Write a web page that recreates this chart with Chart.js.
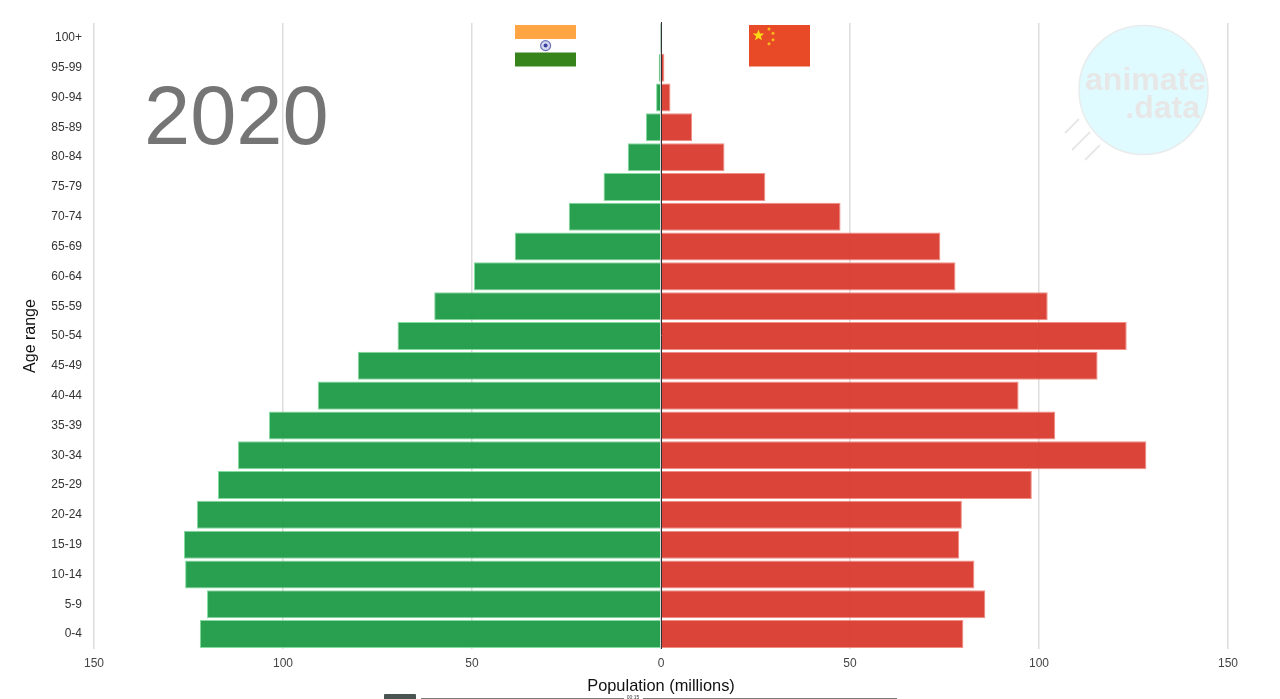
<!DOCTYPE html>
<html>
<head>
<meta charset="utf-8">
<title>Population pyramid 2020</title>
<script src="https://cdn.jsdelivr.net/npm/chart.js@4"></script>
<style>
    body { margin: 0; background: #fff; font-family: "Liberation Sans", Arial, sans-serif; overflow: hidden; }
    #wrap { position: relative; width: 1280px; height: 699px; overflow: hidden; }
    #chart { position: absolute; left: 0; top: 0; }
    #year { position: absolute; left: 144px; top: 67px; font-size: 83px; line-height: 97px; color: #757575; }
    #decor { position: absolute; left: 0; top: 0; }
</style>
</head>
<body>
<div id="wrap">
    <canvas id="chart" width="1280" height="699"></canvas>
    <div id="year">2020</div>
    <svg id="decor" width="1280" height="699" font-family="Liberation Sans">
        <!-- India flag -->
        <rect x="515" y="25" width="61" height="14" fill="#ffa544"/>
        <rect x="515" y="52.5" width="61" height="14" fill="#38841c"/>
        <circle cx="545.6" cy="45.6" r="5" fill="#d5d8f0" stroke="#6a72b8" stroke-width="1.2"/>
        <circle cx="545.6" cy="45.6" r="2" fill="#3a429c"/>
        <!-- China flag -->
        <rect x="749" y="25" width="61" height="41.5" fill="#e84a28"/>
        <polygon points="758.5,29.5 760,33.4 764.2,33.6 760.9,36.2 762,40.2 758.5,37.9 755,40.2 756.1,36.2 752.8,33.6 757,33.4" fill="#fbdc14"/>
        <circle cx="769" cy="29" r="1.5" fill="#f7b81e"/>
        <circle cx="773" cy="33.3" r="1.5" fill="#f7b81e"/>
        <circle cx="773" cy="39.7" r="1.5" fill="#f7b81e"/>
        <circle cx="769" cy="43.7" r="1.5" fill="#f7b81e"/>
        <!-- animate.data logo -->
        <circle cx="1143.5" cy="90" r="64.5" fill="#e0fbff" stroke="#e8eced" stroke-width="1.5"/>
        <g stroke="#e8e8e8" stroke-width="2">
            <line x1="1065" y1="133" x2="1079" y2="119"/>
            <line x1="1072" y1="150" x2="1090" y2="132"/>
            <line x1="1085" y1="160" x2="1100" y2="145"/>
        </g>
        <g fill="#e7e7e7" font-weight="bold" font-size="32" text-anchor="end">
            <text x="1206" y="90">animate</text>
            <text x="1200" y="118">.data</text>
        </g>
        <!-- player strip at the bottom edge -->
        <rect x="384" y="694" width="32" height="6" rx="1" fill="#4a5450"/>
        <line x1="421" y1="698.5" x2="897" y2="698.5" stroke="#7a7a7a" stroke-width="1"/>
        <rect x="624" y="695" width="19" height="4" fill="#fff"/>
        <text x="633" y="699" font-size="5" text-anchor="middle" fill="#333">00:15</text>
    </svg>
</div>
<script>
const ageRanges = ['0-4', '5-9', '10-14', '15-19', '20-24', '25-29', '30-34', '35-39', '40-44', '45-49',
    '50-54', '55-59', '60-64', '65-69', '70-74', '75-79', '80-84', '85-89', '90-94', '95-99', '100+'];
const indiaValues = [122, 120.1, 125.9, 126.2, 122.8, 117.2, 111.9, 103.7, 90.8, 80.2,
    69.7, 60, 49.5, 38.7, 24.4, 15.2, 8.8, 4, 1.3, 0.6, 0.05];
const chinaValues = [80, 85.8, 82.9, 78.9, 79.6, 98.1, 128.4, 104.3, 94.6, 115.5,
    123.2, 102.3, 77.9, 73.9, 47.5, 27.6, 16.8, 8.2, 2.5, 0.9, 0.05];
const popTicks = [-150, -100, -50, 0, 50, 100, 150];

// dark line at zero sits on top of the bars
const zeroLine = {
    id: 'zeroLine',
    afterDatasetsDraw(chart) {
        const { ctx, chartArea, scales } = chart;
        const x = Math.round(scales.x.getPixelForValue(0)) + 0.5;
        ctx.save();
        ctx.strokeStyle = '#333';
        ctx.lineWidth = 1;
        ctx.beginPath();
        ctx.moveTo(x, chartArea.top - 1);
        ctx.lineTo(x, chartArea.bottom);
        ctx.stroke();
        ctx.restore();
    }
};

new Chart(document.getElementById('chart').getContext('2d'), {
    type: 'bar',
    data: {
        labels: ageRanges,
        datasets: [
            {
                label: 'India',
                data: indiaValues.map(v => -v),
                backgroundColor: 'rgba(33, 157, 74, 0.97)',
                borderColor: 'rgba(120, 215, 150, 0.9)',
                borderWidth: 1
            },
            {
                label: 'China',
                data: chinaValues,
                backgroundColor: 'rgba(218, 60, 48, 0.96)',
                borderColor: 'rgba(240, 130, 120, 0.9)',
                borderWidth: 1
            }
        ]
    },
    options: {
        indexAxis: 'y',
        responsive: false,
        animation: false,
        layout: { padding: { top: 23, right: 52, bottom: 0, left: 0 } },
        datasets: { bar: { categoryPercentage: 1, barPercentage: 0.94 } },
        plugins: { legend: { display: false }, tooltip: { enabled: false } },
        scales: {
            x: {
                stacked: true,
                min: -150,
                max: 150,
                border: { display: false },
                afterFit: scale => { scale.height = 50; },
                afterBuildTicks: scale => { scale.ticks = popTicks.map(value => ({ value })); },
                grid: { color: '#ddd', lineWidth: 1.5, drawTicks: false },
                ticks: {
                    padding: 7,
                    maxRotation: 0,
                    color: '#444',
                    font: { family: 'Liberation Sans', size: 12 },
                    callback: value => Math.abs(value)
                },
                title: {
                    display: true,
                    text: 'Population (millions)',
                    color: '#111',
                    font: { family: 'Liberation Sans', size: 16.4 },
                    padding: { top: 0, bottom: 3 }
                }
            },
            y: {
                stacked: true,
                reverse: true,
                border: { display: false },
                afterFit: scale => { scale.width = 94; },
                grid: { display: false, drawTicks: false },
                ticks: {
                    padding: 12,
                    autoSkip: false,
                    color: '#333',
                    font: { family: 'Liberation Sans', size: 12 }
                },
                title: {
                    display: true,
                    text: 'Age range',
                    color: '#111',
                    font: { family: 'Liberation Sans', size: 16 },
                    padding: { top: 21, bottom: 0 }
                }
            }
        }
    },
    plugins: [zeroLine]
});
</script>
</body>
</html>
